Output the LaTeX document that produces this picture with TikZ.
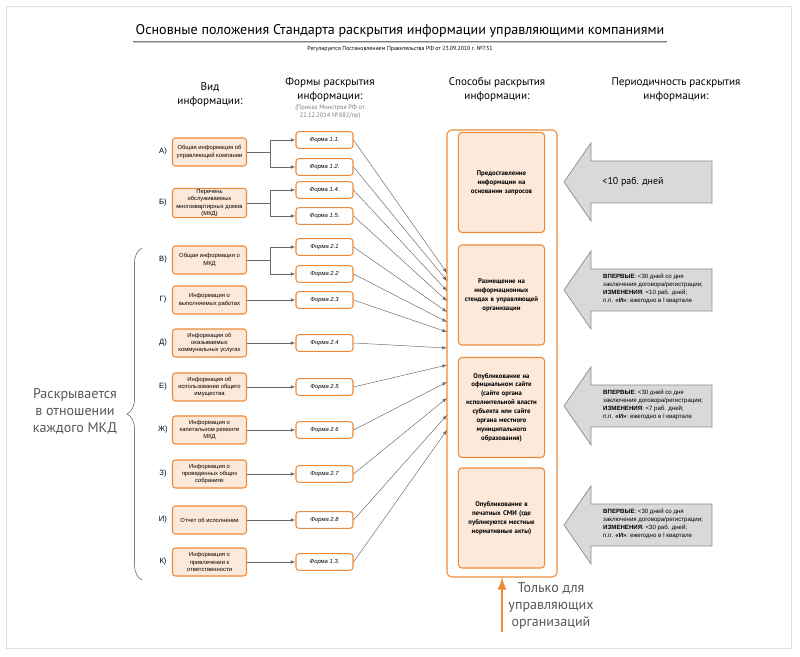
\documentclass[tikz,border=0pt]{standalone}
\usepackage{fontspec}
\setmainfont{PT Sans}
\newfontfamily\boxfont{Liberation Sans}
\usetikzlibrary{arrows, shapes.geometric, calc, positioning, decorations.pathreplacing}
\definecolor{orangeLine}{RGB}{237,139,58}
\definecolor{peach}{RGB}{253,233,217}
\definecolor{arrowGrey}{RGB}{217,217,217}
\definecolor{arrowEdge}{RGB}{140,140,140}
\definecolor{linkGrey}{RGB}{105,105,105}
\definecolor{sideGrey}{RGB}{88,88,88}
\tikzset{
    infoBox/.style={rectangle, draw=orangeLine, fill=peach, line width=0.9pt, rounded corners=2.5pt, minimum width=2.22cm, minimum height=0.84cm, inner sep=1pt, align=center, font=\boxfont\fontsize{5}{6.2}\selectfont},
    formBox/.style={rectangle, draw=orangeLine, fill=white, line width=0.9pt, rounded corners=2.5pt, minimum width=1.71cm, minimum height=0.5cm, inner sep=1pt, font=\boxfont\itshape\fontsize{5}{6}\selectfont},
    letterLbl/.style={inner sep=0pt, font=\boxfont\fontsize{6.5}{7}\selectfont},
    wayFrame/.style={rectangle, draw=orangeLine, fill=white, line width=0.9pt, rounded corners=4pt, minimum width=3.3cm, minimum height=13.41cm},
    wayBox/.style={rectangle, draw=orangeLine, fill=peach, line width=0.9pt, rounded corners=3pt, minimum width=2.49cm, minimum height=3cm, text width=2.35cm, align=center, font=\bfseries\fontsize{5.8}{7.6}\selectfont},
    headTxt/.style={align=center, inner sep=0pt, font=\fontsize{9.5}{12}\selectfont},
    noteTxt/.style={align=center, inner sep=1pt, text=gray, font=\fontsize{5.5}{7}\selectfont},
    sideTxt/.style={align=center, inner sep=0pt, text=sideGrey, font=\fontsize{12}{14.5}\selectfont},
    periodShape/.style={draw=arrowEdge, fill=arrowGrey, line width=0.6pt},
    periodTxt/.style={align=left, anchor=west, inner sep=0pt, font=\boxfont\fontsize{5.2}{7}\selectfont},
    link/.style={->, >=latex, draw=linkGrey, thin},
    plainLink/.style={draw=linkGrey, thin},
    braceLine/.style={draw=gray, line width=0.6pt, decorate, decoration={brace, amplitude=0.45cm}},
    onlyArrow/.style={->, >=latex, draw=orangeLine, line width=2.5pt},
}
\newcommand{\infoItem}[4]{
    \node[infoBox] (#1) at (209.5,#2) {#4};
    \node[letterLbl] (lbl#1) at (163,#2) {#3};
}
\newcommand{\formItem}[3]{
    \node[formBox] (#1) at (324.5,#2) {#3};
}
\newcommand{\periodArrow}[1]{
    \draw[periodShape] (564,#1) -- (591,{#1-39}) -- (591,{#1-21}) -- (712,{#1-21}) -- (712,{#1+21}) -- (591,{#1+21}) -- (591,{#1+39}) -- cycle;
}

\begin{document}
\begin{tikzpicture}[x=0.03cm, y=-0.03cm]
    \useasboundingbox[fill=white] (0,0) rectangle (800,657);
    \draw[gray!25] (6,6) rectangle (791,648);

    % title
    \node[inner sep=0pt, font=\fontsize{12}{14}\selectfont] (title) at (400,31) {Основные положения Стандарта раскрытия информации управляющими компаниями};
    \draw[gray!45, line width=1.6pt] (133,42) -- (667,42);
    \draw[gray, line width=0.8pt] (133,41) -- (667,41);
    \node[inner sep=0pt, font=\fontsize{5}{6}\selectfont] (subtitle) at (400,49) {Регулируется Постановлением Правительства РФ от 23.09.2010 г. №731};

    % column heads
    \node[headTxt] (hKind) at (210,95) {Вид\\информации:};
    \node[headTxt] (hForm) at (330,90) {Формы раскрытия\\информации:};
    \node[noteTxt, below=1pt of hForm] (hOrder) {(Приказ Минстроя РФ от\\22.12.2014 №882/пр)};
    \node[headTxt] (hWay) at (497,90) {Способы раскрытия\\информации:};
    \node[headTxt] (hPeriod) at (676,90) {Периодичность раскрытия\\информации:};

    % kinds of information
    \infoItem{infoA}{152}{А)}{Общая информация об\\управляющей компании}
    \infoItem{infoB}{203}{Б)}{Перечень\\обслуживаемых\\многоквартирных домов\\(МКД)}
    \infoItem{infoV}{260}{В)}{Общая информация о\\МКД}
    \infoItem{infoG}{300}{Г)}{Информация о\\выполняемых работах}
    \infoItem{infoD}{343}{Д)}{Информация об\\оказываемых\\коммунальных услугах}
    \infoItem{infoE}{387}{Е)}{Информация об\\использовании общего\\имущества}
    \infoItem{infoZh}{430}{Ж)}{Информация о\\капитальном ремонте\\МКД}
    \infoItem{infoZ}{474}{З)}{Информация о\\проведенных общих\\собраниях}
    \infoItem{infoI}{520}{И)}{Отчет об исполнении}
    \infoItem{infoK}{562}{К)}{Информация о\\привлечении к\\ответственности}

    % forms
    \formItem{f11}{140}{Форма 1.1.}
    \formItem{f12}{167}{Форма 1.2.}
    \formItem{f14}{190}{Форма 1.4.}
    \formItem{f15}{216}{Форма 1.5.}
    \formItem{f21}{247}{Форма 2.1}
    \formItem{f22}{274}{Форма 2.2}
    \formItem{f23}{300}{Форма 2.3}
    \formItem{f24}{343}{Форма 2.4}
    \formItem{f25}{387}{Форма 2.5}
    \formItem{f26}{430}{Форма 2.6}
    \formItem{f27}{474}{Форма 2.7}
    \formItem{f28}{520}{Форма 2.8}
    \formItem{f13}{562}{Форма 1.3.}

    % ways of disclosure
    \node[wayFrame] (ways) at (502,353.5) {};
    \node[wayBox] (way1) at (501.5,182.5) {Предоставление\\информации на\\основании запросов};
    \node[wayBox] (way2) at (501.5,295) {Размещение на\\информационных\\стендах в управляющей\\организации};
    \node[wayBox] (way3) at (501.5,407.5) {Опубликование на\\официальном сайте\\(сайте органа\\исполнительной власти\\субъекта или сайте\\органа местного\\муниципального\\образования)};
    \node[wayBox] (way4) at (501.5,518) {Опубликование в\\печатных СМИ (где\\публикуются местные\\нормативные акты)};

    % kinds -> forms
    \coordinate (forkA) at (270,152);
    \coordinate (forkB) at (270,203);
    \coordinate (forkV) at (270,260);
    \draw[plainLink] (infoA.east) -- (forkA);
    \draw[link] (forkA) |- (f11.west);
    \draw[link] (forkA) |- (f12.west);
    \draw[plainLink] (infoB.east) -- (forkB);
    \draw[link] (forkB) |- (f14.west);
    \draw[link] (forkB) |- (f15.west);
    \draw[plainLink] (infoV.east) -- (forkV);
    \draw[link] (forkV) |- (f21.west);
    \draw[link] (forkV) |- (f22.west);
    \foreach \a/\f in {infoG/f23, infoD/f24, infoE/f25, infoZh/f26, infoZ/f27, infoI/f28, infoK/f13}
        \draw[link] (\a.east) -- (\f.west);

    % forms -> ways
    \foreach \y [count=\i] in {273,281,291,301,312,322,332,348,365,382,398,415,430}
        \coordinate (in\i) at (447,\y);
    \foreach \f [count=\i] in {f11,f12,f14,f15,f21,f22,f23,f24,f25,f26,f27,f28,f13}
        \draw[link] (\f.east) -- (in\i);

    % periods
    \periodArrow{182}
    \periodArrow{290}
    \periodArrow{406}
    \periodArrow{525}
    \node[inner sep=0pt, font=\fontsize{8.5}{10}\selectfont] (per1) at (633,182) {<10 раб. дней};
    \node[periodTxt] (per2) at (603,289) {\textbf{ВПЕРВЫЕ}: <30 дней со дня\\заключения договора/регистрации;\\\textbf{ИЗМЕНЕНИЯ}: <10 раб. дней;\\п.п. \textbf{«И»}: ежегодно в I квартале};
    \node[periodTxt] (per3) at (603,405) {\textbf{ВПЕРВЫЕ}: <30 дней со дня\\заключения договора/регистрации;\\\textbf{ИЗМЕНЕНИЯ}: <7 раб. дней;\\п.п. \textbf{«И»}: ежегодно в I квартале};
    \node[periodTxt] (per4) at (603,524) {\textbf{ВПЕРВЫЕ}: <30 дней со дня\\заключения договора/регистрации;\\\textbf{ИЗМЕНЕНИЯ}: <30 раб. дней;\\п.п. \textbf{«И»}: ежегодно в I квартале};

    % side notes
    \draw[braceLine] (142,580) -- (142,248);
    \node[sideTxt] (everyMKD) at (75,411) {Раскрывается\\в отношении\\каждого МКД};
    \coordinate (onlyTail) at (502,632);
    \draw[onlyArrow] (onlyTail) -- (ways.south);
    \node[sideTxt] (onlyUO) at (551,606) {Только для\\управляющих\\организаций};

\end{tikzpicture}
\end{document}
